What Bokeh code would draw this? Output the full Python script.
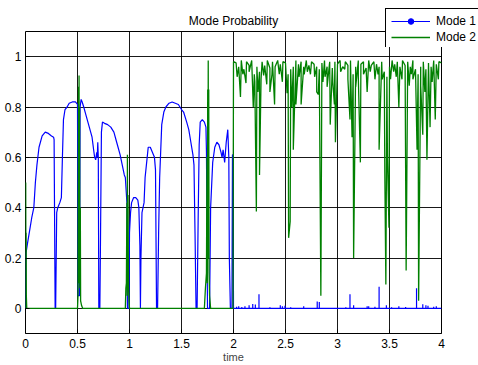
import numpy as np
from bokeh.plotting import figure
from bokeh.models import Legend, LegendItem, FixedTicker, NumeralTickFormatter, Range1d
from bokeh.embed import file_html
from bokeh.resources import INLINE

# ---------------- data ----------------
# Mode 1 (blue) main trace
blue_t = [0.000, 0.005, 0.02, 0.04, 0.06, 0.08, 0.095, 0.11, 0.13, 0.16, 0.19, 0.22, 0.25, 0.27, 0.275,
          0.285, 0.29, 0.30, 0.31, 0.33, 0.345, 0.355, 0.365, 0.38, 0.40, 0.42, 0.45, 0.48, 0.50,
          0.505, 0.52, 0.525, 0.535, 0.545, 0.56, 0.58, 0.60, 0.62, 0.64, 0.655, 0.665, 0.675, 0.685,
          0.69, 0.695, 0.70, 0.705, 0.715, 0.72, 0.73, 0.74, 0.76, 0.79, 0.82, 0.85, 0.87, 0.89, 0.91,
          0.93, 0.95, 0.96, 0.975, 0.98, 0.995, 1.00, 1.01, 1.02, 1.04, 1.06, 1.08, 1.09, 1.10, 1.105,
          1.11, 1.12, 1.14, 1.15, 1.17, 1.18, 1.20, 1.22, 1.24, 1.25, 1.26, 1.27, 1.28, 1.29, 1.31,
          1.33, 1.35, 1.38, 1.41, 1.44, 1.47, 1.50, 1.52, 1.55, 1.57, 1.59, 1.61, 1.62, 1.63, 1.64,
          1.65, 1.66, 1.67, 1.68, 1.70, 1.72, 1.735, 1.74, 1.745, 1.75, 1.77, 1.78, 1.80, 1.82, 1.84,
          1.86, 1.88, 1.89, 1.90, 1.915, 1.93, 1.945, 1.955, 1.96, 1.97, 1.985, 1.99, 1.995, 2.00, 4.00]
blue_y = [0.00, 0.22, 0.26, 0.31, 0.36, 0.40, 0.50, 0.57, 0.64, 0.685, 0.70, 0.695, 0.685, 0.68, 0.67,
          0.00, 0.00, 0.38, 0.40, 0.42, 0.44, 0.60, 0.75, 0.79, 0.80, 0.815, 0.82, 0.82, 0.81,
          0.05, 0.05, 0.80, 0.83, 0.82, 0.80, 0.77, 0.74, 0.71, 0.68, 0.63, 0.60, 0.59, 0.62,
          0.60, 0.66, 0.60, 0.00, 0.00, 0.22, 0.70, 0.74, 0.735, 0.73, 0.72, 0.70, 0.67, 0.64, 0.61,
          0.57, 0.53, 0.52, 0.42, 0.00, 0.00, 0.30, 0.38, 0.42, 0.44, 0.44, 0.43, 0.40, 0.25, 0.00,
          0.20, 0.38, 0.42, 0.52, 0.60, 0.64, 0.64, 0.62, 0.60, 0.55, 0.00, 0.00, 0.30, 0.52, 0.73,
          0.78, 0.80, 0.815, 0.82, 0.815, 0.81, 0.79, 0.78, 0.74, 0.71, 0.66, 0.61, 0.57, 0.30, 0.00,
          0.00, 0.35, 0.65, 0.74, 0.75, 0.74, 0.72, 0.62, 0.30, 0.00, 0.00, 0.40, 0.58, 0.64, 0.66,
          0.65, 0.62, 0.60, 0.63, 0.58, 0.66, 0.71, 0.60, 0.20, 0.00, 0.00, 0.61, 0.61, 0.00, 0.00]

# Mode 1 small spikes after t = 2
blue_spike_t = [2.03, 2.05, 2.08, 2.11, 2.15, 2.185, 2.21, 2.245, 2.35, 2.45, 2.47, 2.495, 2.55,
                2.675, 2.805, 2.825, 3.08, 3.12, 3.155, 3.285, 3.30, 3.36, 3.40, 3.47, 3.52, 3.59,
                3.655, 3.76, 3.82, 3.85, 3.87, 3.925, 3.95]
blue_spike_h = [0.006, 0.008, 0.005, 0.008, 0.012, 0.017, 0.015, 0.056, 0.004, 0.012, 0.008, 0.010,
                0.004, 0.008, 0.027, 0.025, 0.004, 0.056, 0.012, 0.008, 0.008, 0.006, 0.086, 0.012,
                0.004, 0.008, 0.005, 0.080, 0.016, 0.012, 0.010, 0.006, 0.008]

# Mode 2 (green) before t = 2
green_early_t = [0.000, 0.002, 0.004, 0.006, 0.008, 0.012,
                 0.50, 0.505, 0.51, 0.512, 0.515, 0.518, 0.52, 0.523, 0.527, 0.53, 0.54, 0.55,
                 0.96, 0.965, 0.97, 0.975, 0.978, 0.98, 0.983, 0.986, 0.99, 0.995, 1.00,
                 1.72, 1.73, 1.74, 1.745, 1.748, 1.752, 1.755, 1.757, 1.76, 1.762, 1.765, 1.77, 1.78,
                 1.995]
green_early_y = [0.00, 0.50, 0.13, 0.30, 0.05, 0.00,
                 0.00, 0.05, 0.88, 0.10, 0.925, 0.15, 0.80, 0.08, 0.40, 0.03, 0.01, 0.00,
                 0.00, 0.08, 0.10, 0.42, 0.05, 0.61, 0.10, 0.45, 0.09, 0.03, 0.00,
                 0.00, 0.08, 0.14, 0.60, 0.10, 0.87, 0.20, 0.985, 0.30, 0.87, 0.14, 0.05, 0.00,
                 0.00]

# Mode 2 upper band after t = 2
green_band_t = [2.000, 2.025, 2.050, 2.075, 2.100, 2.125, 2.150, 2.175, 2.200, 2.225, 2.250, 2.275,
                2.300, 2.325, 2.350, 2.375, 2.400, 2.425, 2.450, 2.475, 2.500, 2.525, 2.550, 2.575,
                2.600, 2.625, 2.650, 2.675, 2.700, 2.725, 2.750, 2.775, 2.800, 2.825, 2.850, 2.875,
                2.900, 2.925, 2.950, 2.975, 3.000, 3.025, 3.050, 3.075, 3.100, 3.125, 3.150, 3.175,
                3.200, 3.225, 3.250, 3.275, 3.300, 3.325, 3.350, 3.375, 3.400, 3.425, 3.450, 3.475,
                3.500, 3.525, 3.550, 3.575, 3.600, 3.625, 3.650, 3.675, 3.700, 3.725, 3.750, 3.775,
                3.800, 3.825, 3.850, 3.875, 3.900, 3.925, 3.950, 3.975, 4.000]
green_band_y = [0.98, 0.975, 0.96, 0.985, 0.95, 0.98, 0.965, 0.985, 0.93, 0.96, 0.94, 0.98,
                0.965, 0.985, 0.955, 0.98, 0.96, 0.985, 0.97, 0.98, 0.975, 0.93, 0.95, 0.96,
                0.985, 0.97, 0.98, 0.96, 0.985, 0.965, 0.98, 0.97, 0.96, 0.95, 0.975, 0.985,
                0.96, 0.98, 0.955, 0.98, 0.97, 0.985, 0.96, 0.98, 0.965, 0.985, 0.93, 0.96,
                0.985, 0.97, 0.98, 0.955, 0.985, 0.965, 0.98, 0.97, 0.96, 0.98, 0.94, 0.92,
                0.96, 0.985, 0.97, 0.98, 0.96, 0.985, 0.965, 0.98, 0.96, 0.985, 0.95, 0.93,
                0.96, 0.98, 0.95, 0.975, 0.96, 0.985, 0.97, 0.98, 0.975]

# Mode 2 downward dips after t = 2
green_dip_t = [2.035, 2.067, 2.09, 2.12, 2.15, 2.19, 2.205, 2.22, 2.235, 2.25, 2.265, 2.29, 2.32,
               2.35, 2.37, 2.395, 2.44, 2.47, 2.515, 2.53, 2.545, 2.56, 2.575, 2.60, 2.63, 2.65,
               2.68, 2.71, 2.74, 2.78, 2.80, 2.815, 2.84, 2.86, 2.88, 2.90, 2.93, 2.955, 2.97,
               2.98, 3.03, 3.07, 3.10, 3.12, 3.14, 3.155, 3.175, 3.20, 3.22, 3.25, 3.285, 3.315,
               3.36, 3.39, 3.40, 3.43, 3.455, 3.465, 3.48, 3.495, 3.51, 3.54, 3.565, 3.59, 3.62,
               3.66, 3.69, 3.71, 3.725, 3.765, 3.78, 3.80, 3.82, 3.84, 3.86, 3.89, 3.91, 3.94, 3.97]
green_dip_y = [0.92, 0.84, 0.93, 0.895, 0.94, 0.80, 0.90, 0.385, 0.86, 0.53, 0.91, 0.925, 0.89,
               0.86, 0.93, 0.81, 0.93, 0.90, 0.855, 0.28, 0.345, 0.80, 0.63, 0.81, 0.92, 0.81,
               0.93, 0.94, 0.93, 0.92, 0.86, 0.85, 0.05, 0.90, 0.92, 0.88, 0.73, 0.90, 0.81,
               0.66, 0.94, 0.95, 0.91, 0.75, 0.68, 0.20, 0.88, 0.92, 0.58, 0.93, 0.86, 0.94,
               0.91, 0.93, 0.63, 0.91, 0.54, 0.095, 0.60, 0.32, 0.91, 0.94, 0.92, 0.80, 0.91,
               0.15, 0.885, 0.93, 0.91, 0.63, 0.03, 0.885, 0.69, 0.86, 0.59, 0.72, 0.90, 0.75, 0.91]

x_ticks = [0, 0.5, 1, 1.5, 2, 2.5, 3, 3.5, 4]
y_ticks = [0, 0.2, 0.4, 0.6, 0.8, 1]
series_names = ["Mode 1", "Mode 2"]

# merge the green pieces in time order
g_t = np.array(green_early_t + green_band_t + green_dip_t)
g_y = np.array(green_early_y + green_band_y + green_dip_y)
order = np.argsort(g_t, kind="stable")
g_t, g_y = g_t[order], g_y[order]

FONT = "Liberation Sans"
BLUE = "#0000ff"
GREEN = "#008000"

p = figure(width=478, height=365, output_backend="svg", toolbar_location=None,
           x_range=Range1d(0, 4), y_range=Range1d(-0.1, 1.1),
           min_border_left=25, min_border_right=37, min_border_top=31, min_border_bottom=28,
           title="Mode Probability")
p.background_fill_color = "white"
p.border_fill_color = "white"
p.outline_line_color = "black"
p.outline_line_width = 1

p.title.align = "center"
p.title.text_font = FONT
p.title.text_font_size = "12px"
p.title.text_font_style = "normal"
p.title.text_color = "#000000"
p.title.standoff = 7

for ax in (p.xaxis[0], p.yaxis[0]):
    ax.axis_line_color = None
    ax.major_tick_in = 4
    ax.major_tick_out = 0
    ax.major_tick_line_color = "black"
    ax.minor_tick_line_color = None
    ax.major_label_text_font = FONT
    ax.major_label_text_font_size = "12px"
    ax.major_label_text_color = "#000000"
    ax.formatter = NumeralTickFormatter(format="0.[0]")

p.xaxis[0].ticker = FixedTicker(ticks=x_ticks)
p.yaxis[0].ticker = FixedTicker(ticks=y_ticks)
p.xaxis[0].major_label_standoff = 5
p.yaxis[0].major_label_standoff = 4
p.xaxis[0].axis_label = "time"
p.xaxis[0].axis_label_text_font = FONT
p.xaxis[0].axis_label_text_font_size = "11px"
p.xaxis[0].axis_label_text_font_style = "normal"
p.xaxis[0].axis_label_standoff = 0

for g in (p.xgrid[0], p.ygrid[0]):
    g.grid_line_color = "#000000"
    g.grid_line_width = 1
    g.grid_line_alpha = 0.9

p.line(blue_t, blue_y, line_color=BLUE, line_width=1.2)
p.segment(x0=blue_spike_t, y0=0, x1=blue_spike_t, y1=blue_spike_h, line_color=BLUE, line_width=1.2)
p.line(g_t, g_y, line_color=GREEN, line_width=1.3)

# legend box: a second root overlaid at the top right corner like the original.
# Its proxy renderers carry the same series, kept outside this small plot's ranges.
lg = figure(width=94, height=40, output_backend="svg", toolbar_location=None,
            x_axis_type=None, y_axis_type=None,
            x_range=Range1d(10, 11), y_range=Range1d(10, 11),
            min_border_left=0, min_border_right=0, min_border_top=0, min_border_bottom=0,
            styles={"position": "absolute", "left": "384px", "top": "7px", "z-index": "10"})
lg.background_fill_color = None
lg.border_fill_color = None
lg.outline_line_color = None
lg.xgrid.visible = False
lg.ygrid.visible = False
l1 = lg.line(blue_t, blue_y, line_color=BLUE, line_width=1.2)
d1 = lg.scatter(blue_t, blue_y, size=2, color=BLUE)
l2 = lg.line(g_t, g_y, line_color=GREEN, line_width=1.3)

legend = Legend(items=[LegendItem(label=series_names[0], renderers=[l1, d1]),
                       LegendItem(label=series_names[1], renderers=[l2])],
                location="top_left")
legend.label_text_font = FONT
legend.label_text_font_size = "12px"
legend.label_text_color = "#000000"
legend.border_line_color = "black"
legend.border_line_alpha = 1
legend.border_line_width = 1.5
legend.background_fill_color = "white"
legend.background_fill_alpha = 1
legend.glyph_width = 39
legend.glyph_height = 14
legend.label_height = 14
legend.label_standoff = 6
legend.padding = 5
legend.spacing = 2
legend.margin = 1
lg.add_layout(legend, "center")

open("out.html", "w").write(file_html([p, lg], INLINE))
